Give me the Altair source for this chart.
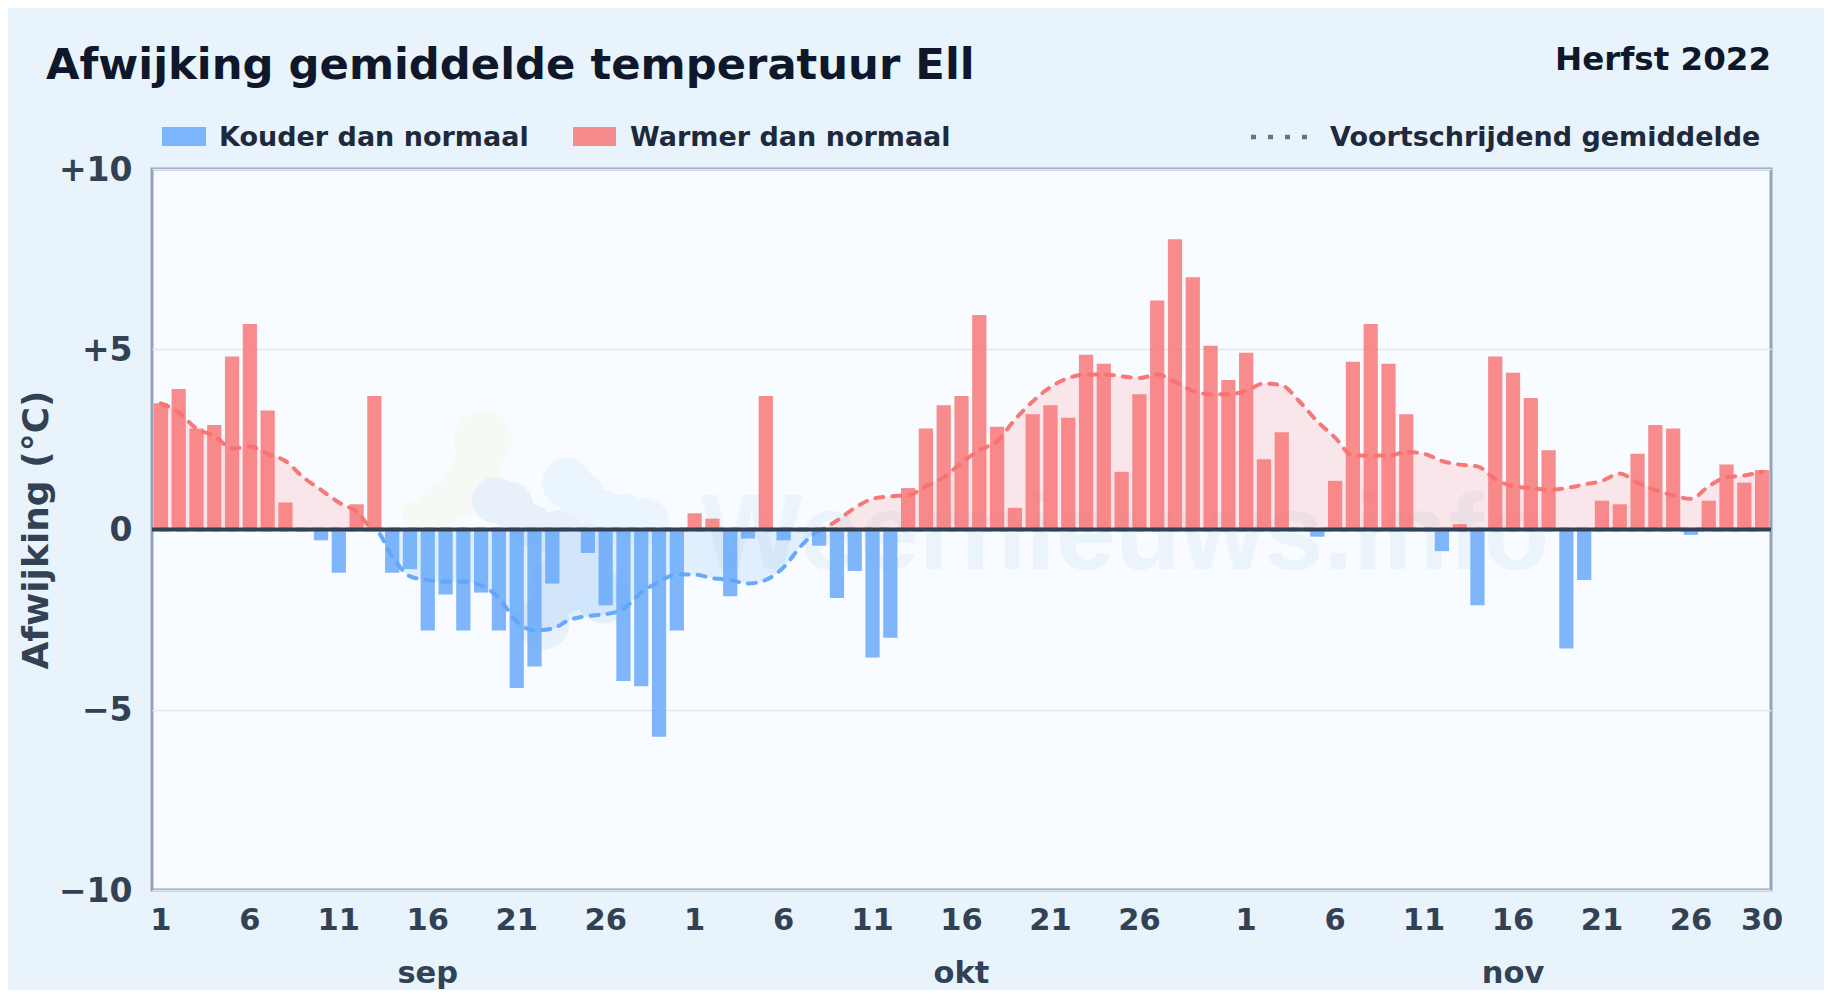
import altair as alt
import pandas as pd

sep_waarden = [3.5, 3.9, 2.8, 2.9, 4.8, 5.7, 3.3, 0.75, -0.05, -0.3, -1.2, 0.7, 3.7, -1.2, -1.1,
               -2.8, -1.8, -2.8, -1.75, -2.8, -4.4, -3.8, -1.5, 0.0, -0.65, -2.1, -4.2, -4.35, -5.75, -2.8]
okt_waarden = [0.45, 0.3, -1.85, -0.25, 3.7, -0.3, -0.05, -0.45, -1.9, -1.15, -3.55, -3.0, 1.15, 2.8, 3.45, 3.7,
               5.95, 2.85, 0.6, 3.2, 3.45, 3.1, 4.85, 4.6, 1.6, 3.75, 6.35, 8.05, 7.0, 5.1, 4.15]
nov_waarden = [4.9, 1.95, 2.7, 0.05, -0.2, 1.35, 4.65, 5.7, 4.6, 3.2, -0.05, -0.6, 0.15, -2.1, 4.8,
               4.35, 3.65, 2.2, -3.3, -1.4, 0.8, 0.7, 2.1, 2.9, 2.8, -0.15, 0.8, 1.8, 1.3, 1.65]

sep_gem = [3.5, 3.25, 2.8, 2.6, 2.25, 2.3, 2.1, 1.9, 1.45, 1.1, 0.75, 0.5, 0.0, -0.75, -1.3,
           -1.4, -1.45, -1.45, -1.55, -1.9, -2.55, -2.8, -2.75, -2.5, -2.4, -2.35, -2.2, -1.75, -1.45, -1.25]
okt_gem = [-1.25, -1.35, -1.4, -1.5, -1.4, -1.05, -0.45, -0.05, 0.25, 0.6, 0.85, 0.92, 0.95, 1.2, 1.45, 1.85,
           2.2, 2.45, 3.05, 3.55, 3.95, 4.2, 4.3, 4.3, 4.25, 4.2, 4.3, 4.1, 3.85, 3.75, 3.75]
nov_gem = [3.85, 4.05, 4.0, 3.55, 3.0, 2.55, 2.05, 2.05, 2.05, 2.15, 2.1, 1.9, 1.8, 1.75, 1.4,
           1.2, 1.15, 1.1, 1.15, 1.25, 1.35, 1.55, 1.3, 1.1, 0.95, 0.85, 1.2, 1.45, 1.5, 1.6]

maanden = ["sep", "okt", "nov"]
dag_ticks = {"sep": [1, 6, 11, 16, 21, 26], "okt": [1, 6, 11, 16, 21, 26], "nov": [1, 6, 11, 16, 21, 26, 30]}
y_ticks = [-10, -5, 0, 5, 10]

rood, blauw = "#f87171", "#60a5fa"
W, H = 1619, 721
OX, OY = 152, 169  # plot-area origin in picture pixels

rows = []
for m, vals, gem in zip(maanden, [sep_waarden, okt_waarden, nov_waarden], [sep_gem, okt_gem, nov_gem]):
    for i, (v, g) in enumerate(zip(vals, gem), start=1):
        rows.append({"dag": f"{m} {i}", "waarde": v, "gem": g})
df = pd.DataFrame(rows)
keys = df["dag"].tolist()
tick_keys = [f"{m} {d}" for m in maanden for d in dag_ticks[m]]

x_as = alt.Axis(values=tick_keys, labelExpr="split(datum.label, ' ')[1]", title=None, labelAngle=0,
                ticks=False, domain=False, grid=False, labelOverlap=False, labelFontSize=30.5,
                labelFontWeight="bold", labelColor="#334155", labelPadding=15, labelBound=False,
                labelFlush=False, labelFont="DejaVu Sans")
x_enc = alt.X("dag:N", sort=keys,
              scale=alt.Scale(type="band", domain=keys, paddingInner=0.2, paddingOuter=0.1),
              axis=x_as)
y_scale = alt.Scale(domain=[-10, 10], nice=False, zero=False)
y_as = alt.Axis(values=y_ticks, title="Afwijking (°C)", titleFontSize=36, titleFontWeight="bold",
                titleFont="DejaVu Sans", titleColor="#334155", titleX=-97, titleY=H / 2, labelFontSize=33,
                labelFont="DejaVu Sans", labelFontWeight="bold", labelColor="#334155", labelPadding=20, ticks=False,
                domain=False, gridColor="#e2e8f0", gridWidth=1.5, labelOffset=1,
                labelExpr="datum.value > 0 ? '+' + datum.value : datum.value < 0 ? '\u2212' + abs(datum.value) : '0'")


def y_op(f):
    return alt.Y(f, scale=y_scale, stack=None, axis=y_as)


def px(x, y):
    return {"x": alt.value(x - OX), "y": alt.value(y - OY)}


def one():
    return alt.Data(values=[{"a": 1}])


def tekst(s, x, y, size, color, align="left", weight="bold", baseline="middle", font="DejaVu Sans"):
    return alt.Chart(one()).mark_text(text=s, font=font, fontSize=size, fontWeight=weight, color=color,
                                      align=align, baseline=baseline).encode(**px(x, y))


def blob(x, y, r, color):
    return alt.Chart(one()).mark_circle(size=3.1416 * r * r, color=color, opacity=1).encode(**px(x, y))


groen, lichtblauw, grijs, kern = "#f5faf5", "#eaf5fe", "#e8f0f9", "#e4f1fd"
logo = [
    (483, 440, 33, groen), (478, 465, 28, groen), (465, 490, 28, groen), (440, 505, 24, groen), (415, 515, 15, groen),
    (567, 483, 28, lichtblauw), (580, 495, 27, lichtblauw), (600, 510, 24, lichtblauw), (625, 515, 24, lichtblauw), (645, 522, 27, lichtblauw),
    (495, 500, 26, grijs), (510, 505, 26, grijs), (530, 525, 24, grijs), (560, 535, 28, grijs), (585, 550, 30, grijs),
    (560, 585, 34, grijs), (543, 623, 30, grijs), (603, 597, 30, kern),
]
decor = [blob(*b) for b in logo]
watermerk = tekst("Weernieuws.info", 701, 569, 107, "#ebf3fb", baseline="alphabetic", font="Liberation Sans")

basis = alt.Chart(df).transform_calculate(pos="max(datum.gem, 0)", neg="min(datum.gem, 0)")
vlak_pos = basis.mark_area(color=rood, opacity=0.15, interpolate="monotone").encode(x=x_enc, y=y_op("pos:Q"))
vlak_neg = basis.mark_area(color=blauw, opacity=0.15, interpolate="monotone").encode(x=x_enc, y=y_op("neg:Q"))
balken = alt.Chart(df).mark_bar(opacity=0.8).encode(
    x=x_enc, y=y_op("waarde:Q"),
    color=alt.condition("datum.waarde > 0", alt.value(rood), alt.value(blauw)))
lijn_stijl = dict(strokeWidth=4, strokeDash=[8, 9], strokeCap="round", interpolate="monotone", opacity=0.95)
lijn_pos = basis.mark_line(color=rood, **lijn_stijl).encode(x=x_enc, y=y_op("pos:Q"))
lijn_neg = basis.mark_line(color=blauw, **lijn_stijl).encode(x=x_enc, y=y_op("neg:Q"))
nul = alt.Chart(one()).transform_calculate(nul="0").mark_rule(color="#334155", strokeWidth=4).encode(
    y=y_op("nul:Q"))

maand_df = pd.DataFrame({"dag": ["sep 16", "okt 16", "nov 16"], "naam": maanden})
maand_lab = alt.Chart(maand_df).mark_text(font="DejaVu Sans", fontSize=30.5, fontWeight="bold", color="#334155",
                                          baseline="middle").encode(
    x=x_enc, y=alt.value(974 - OY), text="naam:N")


def leg_rect(x1, x2, color):
    return alt.Chart(one()).mark_rect(color=color, opacity=0.8).encode(
        x=alt.value(x1 - OX), x2=alt.value(x2 - OX), y=alt.value(127 - OY), y2=alt.value(146 - OY))


legend = [
    leg_rect(162, 206, blauw), tekst("Kouder dan normaal", 219, 138, 27, "#1e293b"),
    leg_rect(573, 616, rood), tekst("Warmer dan normaal", 630, 138, 27, "#1e293b"),
    alt.Chart(one()).mark_rule(color="#64748b", strokeWidth=4.5, strokeDash=[5, 12]).encode(
        x=alt.value(1251 - OX), x2=alt.value(1310 - OX), y=alt.value(137 - OY)),
    tekst("Voortschrijdend gemiddelde", 1330, 138, 27, "#1e293b"),
]
titels = [
    tekst("Afwijking gemiddelde temperatuur Ell", 46, 66, 43.3, "#0f172a"),
    tekst("Herfst 2022", 1771, 60, 32.5, "#0f172a", align="right"),
]

chart = alt.layer(
    watermerk, *decor, vlak_pos, vlak_neg, balken, lijn_pos, lijn_neg, nul,
    maand_lab, *legend, *titels
).resolve_scale(x="shared", y="shared").properties(
    width=W, height=H,
    autosize=alt.AutoSizeParams(type="none", contains="content"),
    padding={"left": OX - 8, "top": OY - 8, "right": 1816 - (OX - 8) - W, "bottom": 984 - (OY - 8) - H - 2},
    background="#e8f3fc",
).configure_view(fill="#f8fbff", stroke="#94a3b8", strokeWidth=3)

chart.save("out.html", embed_options={"renderer": "svg", "actions": False})
